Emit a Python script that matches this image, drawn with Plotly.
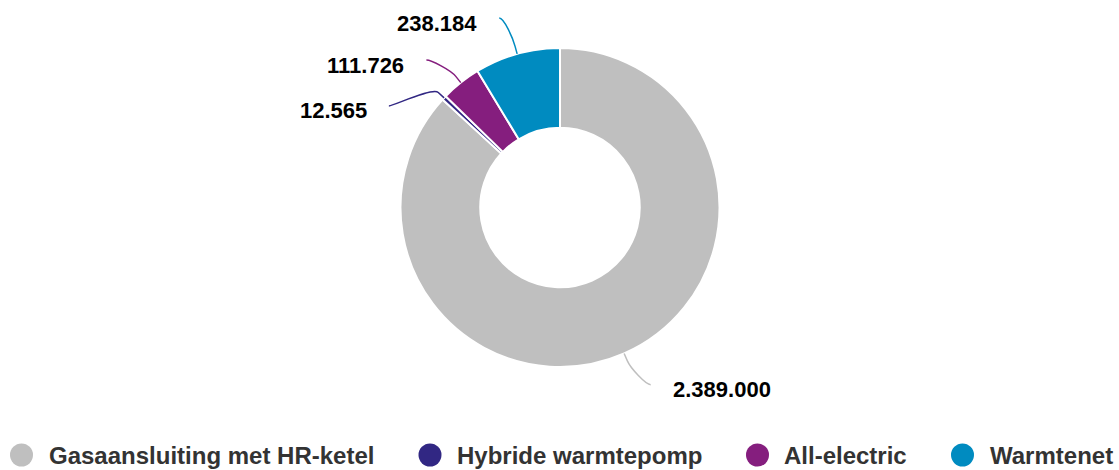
import math
import plotly.graph_objects as go

# Heating systems and number of homes per system
categories = ["Gasaansluiting met HR-ketel", "Hybride warmtepomp", "All-electric", "Warmtenet"]
homes = [2389000, 12565, 111726, 238184]
colors = ["#bfbfbf", "#312783", "#851e7e", "#008bc0"]

# Canvas and donut geometry (pixels)
W, H = 1119, 470
CX, CY, R = 560, 207.5, 159.5
HOLE = 0.5

# Outside-label layout: connector end radius, per-label angular spread to avoid overlap
LABEL_RADIUS = 199
LABEL_ANGLE_SHIFT = [-3.4, -12.7, -3.7, -2.2]
BREAK_OUT = 8
TEXT_GAP = 20
TEXT_DY = 5

# Bottom legend: symbol centres (pixels), symbol radius, symbol-to-text gap
LEGEND_X = [21.5, 430, 757.5, 962.5]
LEGEND_Y = 455
LEGEND_R = 11.5
LEGEND_TEXT_OFFSET = 25

FONT = "Arial, Liberation Sans, sans-serif"


def px(x):
    return x / W


def py(y):
    return 1 - y / H


def polar(r, deg):
    a = math.radians(deg)
    return CX + r * math.sin(a), CY - r * math.cos(a)


def fmt(v):
    return f"{v:,}".replace(",", ".")


fig = go.Figure()

fig.add_trace(go.Pie(
    labels=categories,
    values=homes,
    hole=HOLE,
    sort=False,
    direction="clockwise",
    rotation=0,
    marker=dict(colors=colors, line=dict(color="#ffffff", width=2)),
    textinfo="none",
    hoverinfo="label+value",
    showlegend=False,
    domain=dict(x=[px(CX - R), px(CX + R)], y=[py(CY + R), py(CY - R)]),
))

# Connectors and value labels, placed from each slice's mid-angle
total = sum(homes)
start = 0.0
shapes = []
annotations = []
for i, v in enumerate(homes):
    span = 360.0 * v / total
    mid = start + span / 2
    start += span

    tx, ty = polar(R, mid)
    bx, by = polar(R + BREAK_OUT, mid)
    ex, ey = polar(LABEL_RADIUS, mid + LABEL_ANGLE_SHIFT[i])
    right = ex > CX
    c1x = ex + (-5 if right else 5)
    c2x, c2y = 2 * bx - tx, 2 * by - ty

    path = (f"M {px(ex):.5f},{py(ey):.5f} "
            f"C {px(c1x):.5f},{py(ey):.5f} {px(c2x):.5f},{py(c2y):.5f} {px(bx):.5f},{py(by):.5f} "
            f"L {px(tx):.5f},{py(ty):.5f}")
    shapes.append(dict(type="path", xref="paper", yref="paper", path=path,
                       line=dict(color=colors[i], width=1.5)))

    annotations.append(dict(
        x=px(ex + (TEXT_GAP if right else -TEXT_GAP)), y=py(ey + TEXT_DY),
        xref="paper", yref="paper",
        xanchor="left" if right else "right", yanchor="middle",
        text=fmt(v), showarrow=False,
        font=dict(family=FONT, size=22, color="#000000", weight=700),
    ))

# Legend: coloured circle plus category name for each slice
for i, (name, col) in enumerate(zip(categories, colors)):
    lx = LEGEND_X[i]
    shapes.append(dict(
        type="circle", xref="paper", yref="paper",
        x0=px(lx - LEGEND_R), x1=px(lx + LEGEND_R),
        y0=py(LEGEND_Y + LEGEND_R), y1=py(LEGEND_Y - LEGEND_R),
        fillcolor=col, line=dict(width=0),
    ))
    annotations.append(dict(
        x=px(lx + LEGEND_TEXT_OFFSET), y=py(LEGEND_Y),
        xref="paper", yref="paper", xanchor="left", yanchor="middle",
        text=name, showarrow=False,
        font=dict(family=FONT, size=24, color="#333333", weight=700),
    ))

fig.update_layout(
    width=W, height=H,
    margin=dict(l=0, r=0, t=0, b=0),
    paper_bgcolor="#ffffff",
    plot_bgcolor="#ffffff",
    showlegend=False,
    shapes=shapes,
    annotations=annotations,
)

fig.write_html("out.html")
